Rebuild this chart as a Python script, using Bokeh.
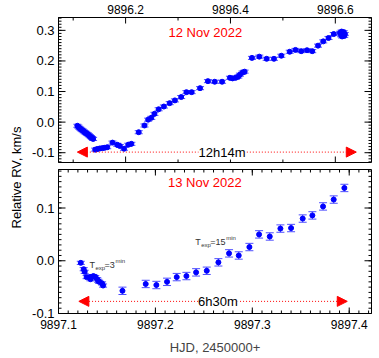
import numpy as np
from bokeh.plotting import figure
from bokeh.layouts import row, column
from bokeh.models import (ColumnDataSource, Whisker, TeeHead, NormalHead, Arrow, Label,
                          LinearAxis, FixedTicker, PrintfTickFormatter, Range1d)
from bokeh.embed import file_html
from bokeh.resources import INLINE

# ---------------- data ----------------
# 12 Nov 2022
hjd1 = [9896.108, 9896.110, 9896.112, 9896.114, 9896.116, 9896.118, 9896.120, 9896.122,
        9896.124, 9896.126, 9896.128, 9896.130, 9896.132, 9896.134, 9896.136, 9896.138,
        9896.142, 9896.146, 9896.151, 9896.156, 9896.160, 9896.165, 9896.175, 9896.184,
        9896.189, 9896.197, 9896.205, 9896.211,
        9896.225, 9896.236, 9896.243, 9896.249, 9896.255, 9896.263, 9896.273, 9896.284,
        9896.294, 9896.306, 9896.316, 9896.326, 9896.342, 9896.357, 9896.370, 9896.384,
        9896.399, 9896.404, 9896.410, 9896.415, 9896.418, 9896.423, 9896.427,
        9896.441, 9896.455, 9896.469, 9896.483, 9896.497, 9896.513, 9896.524, 9896.535,
        9896.546, 9896.556, 9896.567, 9896.577, 9896.587, 9896.597,
        9896.609, 9896.611, 9896.612, 9896.613, 9896.614, 9896.615, 9896.616, 9896.617, 9896.618]
rv1 = [-0.012, -0.015, -0.019, -0.022, -0.025, -0.027, -0.030, -0.033,
       -0.035, -0.038, -0.040, -0.043, -0.046, -0.049, -0.052, -0.055,
       -0.090, -0.088, -0.086, -0.085, -0.084, -0.082, -0.067, -0.074,
       -0.078, -0.087, -0.074, -0.071,
       -0.033, -0.011, 0.008, 0.014, 0.027, 0.042, 0.051, 0.062,
       0.071, 0.082, 0.098, 0.098, 0.111, 0.134, 0.132, 0.132,
       0.145, 0.143, 0.145, 0.149, 0.155, 0.162, 0.165,
       0.210, 0.214, 0.207, 0.207, 0.217, 0.230, 0.236, 0.232,
       0.235, 0.232, 0.250, 0.264, 0.275, 0.288,
       0.292, 0.284, 0.296, 0.280, 0.290, 0.286, 0.294, 0.282, 0.288]
err1 = [0.005] * len(hjd1)

# 13 Nov 2022
hjd2 = [9897.123, 9897.126, 9897.127, 9897.129, 9897.132, 9897.133, 9897.134, 9897.136,
        9897.138, 9897.140, 9897.141, 9897.142, 9897.145, 9897.146,
        9897.166, 9897.190, 9897.201, 9897.212, 9897.222, 9897.232, 9897.242, 9897.253,
        9897.265, 9897.276, 9897.286, 9897.297, 9897.307, 9897.318, 9897.329, 9897.340,
        9897.352, 9897.362, 9897.373, 9897.384, 9897.395]
rv2 = [-0.004, -0.016, -0.021, -0.031, -0.031, -0.035, -0.031, -0.029,
       -0.031, -0.035, -0.038, -0.040, -0.043, -0.047,
       -0.057, -0.044, -0.046, -0.040, -0.031, -0.029, -0.022, -0.019,
       -0.003, 0.014, 0.010, 0.026, 0.050, 0.046, 0.061, 0.062,
       0.080, 0.086, 0.103, 0.116, 0.138]
err2 = [0.003] * 14 + [0.007] * 21

# axis ticks
top_xticks = [9896.2, 9896.4, 9896.6]
top_yticks = [-0.1, 0.0, 0.1, 0.2, 0.3]
bot_xticks = [9897.1, 9897.2, 9897.3, 9897.4]
bot_yticks = [-0.1, 0.0, 0.1]

# annotations
night1 = dict(title="12 Nov 2022", span="12h14m", start=9896.108, end=9896.640, level=-0.098,
              title_x=9896.352, title_y=0.293, span_x=9896.384)
night2 = dict(title="13 Nov 2022", span="6h30m", start=9897.121, end=9897.398, level=-0.077,
              title_x=9897.251, title_y=0.149, span_x=9897.2645)
texp_labels = [("3", 9897.132, -0.008), ("15", 9897.241, 0.036)]

FONT = "Liberation Sans"
DOT = "#0000ff"
BAR = "#4d4dff"
RED = "#ff0000"
BL, BR = 34, 7


def style_axis(ax, font_size, standoff=4):
    ax.major_tick_in = 0
    ax.major_tick_out = 0
    ax.minor_tick_in = 0
    ax.minor_tick_out = 0
    ax.axis_line_color = "black"
    ax.major_label_text_font = FONT
    ax.major_label_text_color = "black"
    ax.major_label_text_font_size = font_size
    ax.major_label_standoff = standoff
    ax.formatter = PrintfTickFormatter(format="%.1f")


def edge_ticks(p, xr, yr, fw, fh, xticks, xminor, yticks, yminor, lens):
    """Inward tick marks on all four frame edges, drawn as short segments."""
    xmaj, xmin_, ymaj, ymin_ = lens
    dx = (xr[1] - xr[0]) / fw
    dy = (yr[1] - yr[0]) / fh
    x0s, x1s, y0s, y1s = [], [], [], []
    for ticks, ln in ((xticks, xmaj), (xminor, xmin_)):
        for t in ticks:
            x0s += [t, t]
            x1s += [t, t]
            y0s += [yr[0], yr[1]]
            y1s += [yr[0] + ln * dy, yr[1] - ln * dy]
    for ticks, ln in ((yticks, ymaj), (yminor, ymin_)):
        for t in ticks:
            y0s += [t, t]
            y1s += [t, t]
            x0s += [xr[0], xr[1]]
            x1s += [xr[0] + ln * dx, xr[1] - ln * dx]
    p.segment(x0=x0s, y0=y0s, x1=x1s, y1=y1s, line_color="black", line_width=1)


def make_panel(hjd, rv, err, xr, yr, xticks, xminor, yticks, yminor, night, width, height,
               bt, bb, top_labels, lens):
    p = figure(width=width, height=height, x_range=Range1d(*xr), y_range=Range1d(*yr),
               output_backend="svg", toolbar_location=None, x_axis_location=None,
               y_axis_location=None, min_border_left=BL, min_border_right=BR,
               min_border_top=bt, min_border_bottom=bb)
    p.xgrid.visible = False
    p.ygrid.visible = False
    p.outline_line_color = "black"
    p.background_fill_color = "white"
    p.border_fill_color = "white"

    ax_l = LinearAxis(ticker=FixedTicker(ticks=yticks))
    style_axis(ax_l, "13px")
    p.add_layout(ax_l, "left")
    ax_x = LinearAxis(ticker=FixedTicker(ticks=xticks))
    style_axis(ax_x, "12px", standoff=4 if top_labels else 6)
    if top_labels:
        p.add_layout(ax_x, "above")
    else:
        ax_x.axis_label = "HJD, 2450000+"
        ax_x.axis_label_text_font = FONT
        ax_x.axis_label_text_font_size = "13px"
        ax_x.axis_label_text_font_style = "normal"
        ax_x.axis_label_standoff = 8
        p.add_layout(ax_x, "below")

    edge_ticks(p, xr, yr, width - BL - BR, height - bt - bb,
               xticks, xminor, yticks, yminor, lens)

    src = ColumnDataSource(dict(x=hjd, y=rv,
                                lo=[a - b for a, b in zip(rv, err)],
                                hi=[a + b for a, b in zip(rv, err)]))
    w = Whisker(base="x", lower="lo", upper="hi", source=src, dimension="height",
                line_color=BAR, line_width=1,
                upper_head=TeeHead(size=8, line_color=BAR, line_width=1),
                lower_head=TeeHead(size=8, line_color=BAR, line_width=1))
    p.add_layout(w)
    p.scatter("x", "y", source=src, size=5, color=DOT)

    p.add_layout(Label(x=night["title_x"], y=night["title_y"], text=night["title"],
                       text_font=FONT, text_font_size="13px", text_color=RED,
                       text_align="center", text_baseline="middle"))
    mid = night["start"] + 0.5 * (night["end"] - night["start"])
    for tip in (night["start"], night["end"]):
        p.add_layout(Arrow(x_start=mid, x_end=tip, y_start=night["level"], y_end=night["level"],
                           line_color=RED, line_width=1, line_dash="1 2",
                           end=NormalHead(size=10, fill_color=RED, line_color=RED)))
    p.add_layout(Label(x=night["span_x"], y=night["level"], text=night["span"], text_font=FONT,
                       text_font_size="13px", text_color="black", text_align="center",
                       text_baseline="middle", background_fill_color="white"))
    return p


LW = 24
W = 354
top_minor_x = list(np.round(np.arange(9896.1, 9896.7, 0.2), 3))
top_minor_y = list(np.round(np.arange(-0.13, 0.35, 0.01), 3))
bot_minor_x = list(np.round(np.arange(9897.10, 9897.43, 0.01), 3))
bot_minor_y = list(np.round(np.arange(-0.10, 0.18, 0.01), 3))

p1 = make_panel(hjd1, rv1, err1, (9896.072, 9896.669), (-0.132, 0.342),
                top_xticks, top_minor_x, top_yticks, top_minor_y, night1,
                W, 165, 17, 3, True, (6, 3, 7, 3))
p2 = make_panel(hjd2, rv2, err2, (9897.1, 9897.423), (-0.1, 0.173),
                bot_xticks, bot_minor_x, bot_yticks, bot_minor_y, night2,
                W, 192, 4, 44, False, (6, 3, 7, 3))

for text, x, y in texp_labels:
    p2.add_layout(Label(x=x, y=y, text="T", text_font=FONT, text_font_size="9px",
                        text_color="#333333", text_baseline="middle"))
    p2.add_layout(Label(x=x, y=y, text="exp", text_font=FONT, text_font_size="6px",
                        text_color="#333333", text_baseline="middle", x_offset=6, y_offset=-3))
    p2.add_layout(Label(x=x, y=y, text="=" + text, text_font=FONT, text_font_size="9px",
                        text_color="#333333", text_baseline="middle", x_offset=15))
    p2.add_layout(Label(x=x, y=y, text="min", text_font=FONT, text_font_size="6px",
                        text_color="#333333", text_baseline="middle",
                        x_offset=21 + 5 * len(text), y_offset=4))

H = 165 + 192
lab = figure(width=LW, height=H, x_range=Range1d(0, 1), y_range=Range1d(0, 1),
             output_backend="svg", toolbar_location=None, x_axis_location=None,
             y_axis_location=None, min_border=0)
lab.xgrid.visible = False
lab.ygrid.visible = False
lab.outline_line_color = None
lab.add_layout(Label(x=15.5 / LW, y=1 - 177 / H, text="Relative RV, km/s", angle=np.pi / 2,
                     text_font=FONT, text_font_size="13px", text_color="black",
                     text_align="center", text_baseline="middle"))

layout = row(lab, column(p1, p2))

with open("out.html", "w") as f:
    f.write(file_html(layout, INLINE))
